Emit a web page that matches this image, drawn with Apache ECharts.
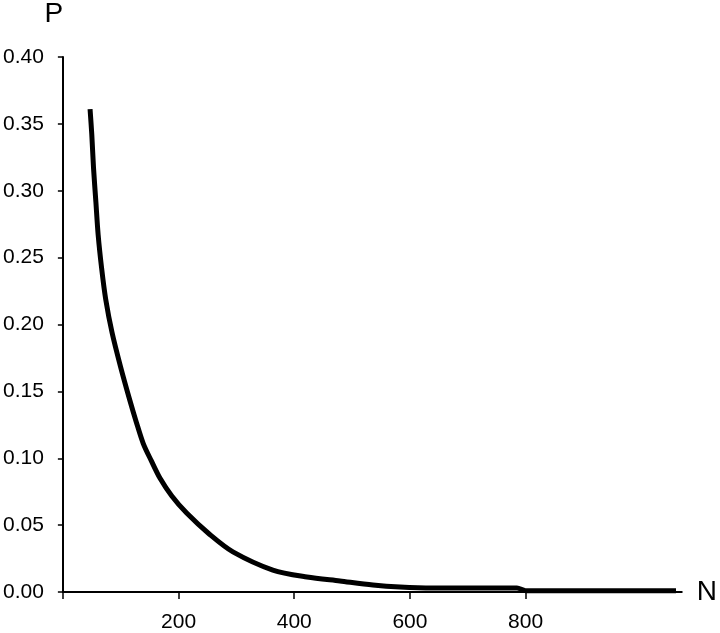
<!DOCTYPE html>
<html>
<head>
<meta charset="utf-8">
<script src="https://cdn.jsdelivr.net/npm/echarts@6/dist/echarts.min.js"></script>
<style>
  html, body { margin: 0; padding: 0; background: #fff; }
  #chart { width: 720px; height: 633px; }
</style>
</head>
<body>
<div id="chart"></div>
<script>
// values
const nValues = [47, 50, 53, 57, 61, 67, 74, 85, 100, 116, 127, 139, 153, 168, 188, 214, 254, 294, 363, 422, 479, 536, 583, 640, 700, 785, 800, 900, 1060];
const pValues = [0.361, 0.342, 0.317, 0.292, 0.267, 0.242, 0.219, 0.194, 0.168, 0.143, 0.127, 0.111, 0.098, 0.085, 0.072, 0.059, 0.043, 0.030, 0.0164, 0.0112, 0.0082, 0.0052, 0.0037, 0.003, 0.003, 0.003, 0.001, 0.001, 0.001];
const xTicks = [0, 200, 400, 600, 800];
const xLabels = [200, 400, 600, 800];

const chart = echarts.init(document.getElementById("chart"));
const font = "Liberation Sans, Arial, sans-serif";

const option = {
  backgroundColor: "#fff",
  animation: false,
  grid: {
    left: 62,
    right: 38,
    top: 55,
    bottom: 41,
    containLabel: false,
  },
  xAxis: {
    type: "value",
    min: 0,
    max: 1070,
    name: "N",
    nameLocation: "end",
    nameGap: 15,
    nameTextStyle: { color: "#000", fontSize: 28, fontFamily: font },
    axisLine: { show: true, lineStyle: { color: "#000", width: 2 } },
    axisTick: {
      show: true,
      length: 7,
      customValues: xTicks,
      lineStyle: { color: "#000", width: 1.5 },
    },
    axisLabel: {
      customValues: xLabels,
      margin: 20,
      color: "#000",
      fontSize: 21,
      fontFamily: font,
    },
    splitLine: { show: false },
  },
  yAxis: {
    type: "value",
    min: 0,
    max: 0.4,
    interval: 0.05,
    name: "P",
    nameLocation: "end",
    nameGap: 29,
    nameTextStyle: { color: "#000", fontSize: 28, fontFamily: font, padding: [0, 18, 0, 0] },
    axisLine: { show: true, lineStyle: { color: "#000", width: 2 } },
    axisTick: { show: true, length: 5, lineStyle: { color: "#000", width: 1.5 } },
    axisLabel: {
      margin: 19,
      color: "#000",
      fontSize: 21,
      fontFamily: font,
      formatter: (v) => v.toFixed(2),
    },
    splitLine: { show: false },
  },
  series: [
    {
      type: "line",
      data: nValues.map((n, i) => [n, pValues[i]]),
      showSymbol: false,
      smooth: 0.3,
      lineStyle: { color: "#000", width: 5 },
    },
  ],
};

chart.setOption(option);
</script>
</body>
</html>
